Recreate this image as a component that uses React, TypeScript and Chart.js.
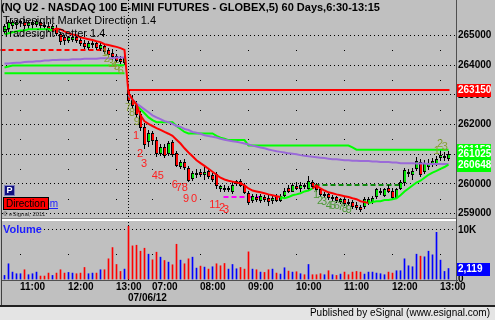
import React, { useEffect, useRef } from "react";
import { Chart, registerables } from "chart.js";

Chart.register(...registerables);

const FONT = '"Liberation Sans", Arial, Helvetica, sans-serif';

// ---------------- DATA ----------------
// 5-minute bars. Index 0 = 10:40 of the prior session, index 31 = 06:30 on 07/06/12.
const SESSION_START_INDEX = 31;
const SESSION_DATE = "07/06/12";
const TIME_TICK_INDEX = [4, 16, 28, 37, 49, 61, 73, 85, 97, 109];
const TIME_TICK_LABELS = ["11:00", "12:00", "13:00", "07:00", "08:00", "09:00", "10:00", "11:00", "12:00", "13:00"];
const PRICE_TICKS = [259000, 260000, 261000, 262000, 263000, 264000, 265000];
const PRICE_HALF_LEVELS = [259500, 260500, 261500, 262500, 263500, 264500];
const VOLUME_TICK = 10000;
const VOLUME_TICK_LABEL = "10K";
const VOLUME_HALF_LEVEL = 5000;

const open = [
  265160, 265260, 265360, 265390, 265430, 265460, 265330, 265390, 265390, 265460,
  265330, 265300, 265230, 265260, 265030, 264930, 264840, 264870, 264930, 264840,
  264740, 264610, 264700, 264740, 264570, 264640, 264510, 264410, 264310, 264210, 264110,
  263150, 262870, 262670, 262340, 261920, 261460, 261720, 261490, 261030, 261260,
  261030, 261420, 261030, 260610, 260740, 260540, 260210, 260340, 260410, 260340,
  260440, 260310, 260340, 259850, 259880, 259820, 259750, 260020, 260110, 259950,
  259690, 259460, 259560, 259460, 259560, 259520, 259460, 259590, 259460, 259620,
  259850, 259780, 259920, 259880, 259950, 259850, 260080, 259950, 259820, 259620,
  259650, 259520, 259560, 259420, 259490, 259390, 259390, 259290, 259230, 259260,
  259390, 259420, 259590, 259720, 259620, 259850, 259780, 259560, 259880, 260050,
  260380, 260340, 260540, 260740, 260440, 260610, 260670, 260700, 260900, 260900, 260870,
];
const high = [
  265390, 265520, 265520, 265520, 265520, 265560, 265490, 265520, 265560, 265520,
  265460, 265430, 265390, 265360, 265100, 265000, 264970, 264970, 264970, 264900,
  264840, 264800, 264800, 264800, 264740, 264700, 264570, 264540, 264380, 264310, 264340,
  263330, 263000, 262800, 262470, 262050, 261820, 261790, 261590, 261360, 261360,
  261460, 261490, 261100, 260800, 260830, 260610, 260440, 260510, 260510, 260610,
  260510, 260380, 260410, 259980, 259950, 259920, 260050, 260150, 260180, 260020,
  259780, 259650, 259650, 259650, 259620, 259620, 259590, 259650, 259650, 259850,
  259980, 260020, 260050, 260050, 260020, 260280, 260150, 260020, 259880, 259720,
  259720, 259620, 259590, 259520, 259560, 259490, 259460, 259390, 259290, 259560,
  259560, 259590, 259880, 259850, 259880, 259950, 259850, 259880, 260150, 260540,
  260510, 260540, 260900, 260830, 260800, 260830, 260870, 260930, 261160, 261060, 261100,
];
const low = [
  265070, 265160, 265230, 265260, 265300, 265260, 265230, 265260, 265300, 265260,
  265200, 265160, 265160, 265000, 264700, 264700, 264770, 264800, 264770, 264670,
  264570, 264540, 264610, 264540, 264510, 264410, 264310, 264210, 264110, 264080, 264050,
  262740, 262570, 262240, 261820, 261200, 261290, 261360, 260930, 260970, 260900,
  260970, 260930, 260610, 260540, 260510, 260110, 260150, 260240, 260280, 260180,
  260210, 260110, 259880, 259780, 259780, 259750, 259690, 259950, 259920, 259690,
  259330, 259390, 259420, 259390, 259420, 259290, 259360, 259420, 259420, 259560,
  259720, 259750, 259820, 259780, 259850, 259820, 259850, 259750, 259590, 259560,
  259490, 259460, 259390, 259360, 259290, 259290, 259190, 259160, 259100, 259190,
  259330, 259360, 259520, 259650, 259590, 259720, 259490, 259520, 259820, 259980,
  260280, 260180, 260470, 260280, 260380, 260510, 260610, 260640, 260800, 260800, 260800,
];
const close = [
  265300, 265430, 265460, 265460, 265490, 265360, 265430, 265460, 265490, 265330,
  265300, 265230, 265300, 265070, 264800, 264840, 264930, 264930, 264840, 264740,
  264640, 264740, 264740, 264610, 264670, 264480, 264380, 264310, 264180, 264150, 264280,
  262840, 262640, 262340, 261920, 261360, 261720, 261490, 261030, 261260, 260970,
  261390, 261000, 260640, 260740, 260570, 260150, 260380, 260380, 260340, 260410,
  260280, 260180, 259950, 259920, 259820, 259850, 259980, 260110, 259950, 259720,
  259390, 259590, 259490, 259590, 259490, 259420, 259520, 259460, 259590, 259780,
  259780, 259950, 259880, 259950, 259920, 260110, 259920, 259820, 259650, 259650,
  259560, 259560, 259460, 259490, 259360, 259360, 259260, 259230, 259160, 259490,
  259490, 259520, 259820, 259780, 259820, 259780, 259560, 259820, 260080, 260470,
  260410, 260440, 260770, 260340, 260700, 260670, 260770, 260830, 260970, 260930, 261025,
];
const volume = [
  730, 3070, 1400, 1070, 1070, 1870, 870, 1070, 1400, 600,
  600, 1200, 730, 1200, 1870, 1200, 1330, 1200, 1070, 1200,
  2330, 1070, 1200, 1200, 1870, 1870, 4070, 6330, 2930, 1530, 2000,
  10600, 6670, 6800, 5600, 6200, 5000, 3870, 5400, 4400, 3730,
  3400, 2870, 7000, 3800, 3070, 4070, 4400, 2200, 2600, 2400,
  2000, 2470, 3070, 2670, 3130, 2000, 2930, 2070, 2330, 2000,
  5470, 2000, 1870, 1400, 1330, 1870, 2000, 1200, 1000, 2270,
  1600, 1400, 1470, 1070, 870, 2930, 870, 870, 1070, 870,
  1670, 870, 730, 1000, 1400, 870, 1400, 1530, 1400, 1000,
  1400, 1400, 1200, 1070, 870, 1400, 1200, 1670, 1670, 4070,
  2670, 2470, 5000, 4600, 4470, 5600, 4870, 9400, 3800, 1530, 2119,
];
// B = up volume (blue), R = down volume (red)
const volumeDirection =
  "BBBBBRBBBRRRBRRRBBRRRBBRBRRRRRB" +
  "RRRRRBRRBRBRRBRRBBRBRBRRRB" +
  "BBRRRBRBRRBRBBRBRBRBRRRBRBRBRRRRRBBBBBBRRBBBBBBRBBBBBBB";

// Tradesight Market Direction line and its state (U = green / support, D = red / resistance)
const marketDirection = [
  265030, 265070, 265100, 265130, 265160, 265160, 265200, 265200, 265200, 265200,
  265200, 265200, 265160, 265230, 265200, 265130, 265070, 265030, 265000, 264930,
  264900, 264870, 264840, 264800, 264770, 264700, 264670, 264640, 264610, 264570, 264510,
  263060, 262840, 262670, 262310, 262110, 262020, 261950, 261880, 261820, 261750,
  261690, 261620, 261490, 261360, 261200, 261060, 260930, 260800, 260700, 260610,
  260510, 260410, 260310, 260210, 260150, 260110, 260080, 260050, 260020, 259950,
  259850, 259780, 259750, 259720, 259690, 259650, 259620, 259590, 259560, 259520,
  259560, 259620, 259650, 259690, 259750, 259780, 259850, 259950, 259850, 259780,
  259720, 259690, 259650, 259620, 259590, 259560, 259520, 259490, 259420, 259390,
  259360, 259390, 259420, 259420, 259460, 259460, 259490, 259520, 259620, 259750,
  259850, 259950, 260050, 260110, 260210, 260310, 260380, 260440, 260510, 260570, 260648,
];
const marketDirectionState =
  "UUUUUUUUUUUUU" +
  "DDDDDDDDDDDDDDDDDDDDDDDDDDDDDDDDDDDDDDDDDDDDDDDDDDDDDDDDD" +
  "UUUUUUUU" +
  "DDDDDDDDDDDDDD" +
  "UUUUUUUUUUUUUUUUUUUU";

// Volume-weighted average line (purple)
const vwap = [
  264050, 264050, 264065, 264080, 264080, 264100, 264110, 264110, 264130, 264130,
  264150, 264150, 264165, 264165, 264180, 264180, 264180, 264195, 264195, 264195,
  264210, 264210, 264210, 264210, 264230, 264230, 264230, 264230, 264250, 264250, 264250,
  263000, 262840, 262700, 262610, 262510, 262410, 262310, 262240, 262180, 262110,
  262080, 262020, 261950, 261920, 261850, 261820, 261750, 261720, 261690, 261640,
  261610, 261590, 261560, 261520, 261490, 261460, 261440, 261420, 261390, 261360,
  261330, 261290, 261260, 261230, 261200, 261160, 261130, 261100, 261080, 261060,
  261030, 261015, 261000, 260970, 260950, 260930, 260915, 260900, 260885, 260870,
  260850, 260830, 260830, 260815, 260800, 260800, 260785, 260785, 260770, 260770,
  260770, 260755, 260755, 260740, 260740, 260740, 260720, 260720, 260700, 260700,
  260700, 260700, 260685, 260685, 260685, 260670, 260670, 260670, 260670, 260670, 260670,
];
// Setter band (bright green step line)
const setterBand = [
  263920, 263950, 263980, 263980, 263980, 263980, 263980, 263980, 263980, 263980,
  263980, 263980, 263980, 263980, 263980, 263980, 263980, 263980, 263980, 263980,
  263980, 263980, 263980, 263980, 263980, 263980, 263980, 263980, 263990, 263990, 263990,
  263000, 262840, 262670, 262510, 262380, 262240, 262150, 262080, 262080, 262080,
  262080, 262080, 261950, 261850, 261750, 261700, 261700, 261700, 261700, 261700,
  261700, 261700, 261620, 261560, 261520, 261475, 261475, 261475, 261475, 261475,
  261290, 261290, 261290, 261290, 261290, 261290, 261290, 261290, 261290, 261290,
  261290, 261290, 261290, 261290, 261290, 261290, 261290, 261290, 261290, 261290,
  261290, 261290, 261290, 261290, 261290, 261290, 261230, 261153, 261153, 261153,
  261153, 261153, 261153, 261153, 261153, 261153, 261153, 261153, 261153, 261153,
  261153, 261153, 261153, 261153, 261153, 261153, 261153, 261153, 261153, 261153, 261153,
];
// Prior-session lower band (green, first session only)
const priorBand = [
  263720, 263720, 263720, 263720, 263720, 263720, 263720, 263720, 263720, 263720,
  263720, 263720, 263720, 263720, 263720, 263720, 263720, 263720, 263720, 263720,
  263720, 263720, 263720, 263720, 263720, 263720, 263720, 263720, 263720, 263720, 263720,
];

// Horizontal reference levels (value, from bar, to bar)
const levelValues = [264500, 263150, 259550, 259975];
const levelFrom = [-1, 30.75, 54.75, 77.5];
const levelTo = [25, 111.25, 64.5, 99];
const levelColors = ["#ff0000", "#ff0000", "#ff00ff", "#108a10"];
const levelDashed = [true, false, true, true];

// Setup / countdown numbers (bar position, price, text)
const countBars = [
  25.1, 25.6, 26.6, 27.4, 28.1, 29.1, 30.9, 31.9, 33.1,
  32.9, 33.9, 34.9, 37.6, 39.1, 42.6, 43.6, 45.1, 45.4, 47.4, 52.6, 54.4, 55.4,
  77.9, 78.9, 79.9, 81.1, 82.1, 83.1, 84.1, 85.1, 86.1,
  108.1, 108.9, 110.1,
];
const countPrices = [
  264410, 264210, 264050, 263980, 263950, 263790, 262540, 262380, 262080,
  261620, 261000, 260670, 260280, 260280, 259980, 259880, 259880, 259490, 259490, 259290, 259190, 259130,
  259620, 259420, 259390, 259260, 259260, 259260, 259230, 259160, 259130,
  261100, 261330, 261230,
];
const countTexts = [
  "1", "2", "3", "4", "5", "6", "7", "8", "9",
  "1", "2", "3", "4", "5", "6", "7", "8", "9", "0", "11", "2", "3",
  "1", "2", "3", "4", "5", "6", "7", "8", "9",
  "1", "2", "3",
];
const countKinds = "SSSSSSSSS" + "CCCCCCCCCCCCC" + "GGGGGGGGG" + "SSS";

// Right-hand value flags
const lastSetterBand = 261153;
const lastClose = 261025;
const lastMarketDirection = 260648;
const openingLevel = 263150;
const lastVolume = 2119;

// ---------------- CHART ----------------
const TITLE = "(NQ U2 - NASDAQ 100 E-MINI FUTURES - GLOBEX,5) 60 Days,6:30-13:15";
const STUDY1 = "Tradesight Market Direction 1.4";
const STUDY2 = "Tradesight Setter 1.4";

const GREEN = "#00ff00";
const RED = "#ff0000";

function pts(arr: (number | null)[]) {
  return arr.map((v, i) => ({ x: i, y: v }));
}

const esignalPlugin = {
  id: "esignal",
  beforeDraw(chart: any) {
    const { ctx, width, height } = chart;
    ctx.save();
    ctx.fillStyle = "#c0c0c0";
    ctx.fillRect(0, 0, width, height);
    ctx.restore();
  },
  beforeDatasetsDraw(chart: any) {
    const { ctx, chartArea } = chart;
    const xs = chart.scales.x;
    const ys = chart.scales.y;
    const yv = chart.scales.yv;
    ctx.save();
    // sparse hourly grid dots
    ctx.fillStyle = "#000";
    TIME_TICK_INDEX.forEach((i) => {
      const x = Math.floor(xs.getPixelForValue(i));
      PRICE_HALF_LEVELS.forEach((p) => ctx.fillRect(x, Math.round(ys.getPixelForValue(p)), 1, 1));
      ctx.fillRect(x, Math.round(yv.getPixelForValue(VOLUME_HALF_LEVEL)), 1, 1);
    });
    // volume 10K dotted line
    const v10 = Math.round(yv.getPixelForValue(VOLUME_TICK)) + 0.5;
    ctx.strokeStyle = "#000";
    ctx.lineWidth = 1;
    ctx.setLineDash([1, 3]);
    ctx.beginPath();
    ctx.moveTo(44, v10);
    ctx.lineTo(chartArea.right, v10);
    ctx.stroke();
    // session separator
    const sx = Math.floor(xs.getPixelForValue(SESSION_START_INDEX)) + 0.5;
    ctx.setLineDash([1, 2]);
    ctx.beginPath();
    ctx.moveTo(sx, 0);
    ctx.lineTo(sx, chartArea.bottom);
    ctx.stroke();
    ctx.setLineDash([]);

    // reference levels
    levelValues.forEach((v, k) => {
      const y = Math.round(ys.getPixelForValue(v));
      ctx.strokeStyle = levelColors[k];
      ctx.lineWidth = 2;
      ctx.setLineDash(levelDashed[k] ? [5, 3] : []);
      ctx.beginPath();
      ctx.moveTo(xs.getPixelForValue(levelFrom[k]), y);
      ctx.lineTo(xs.getPixelForValue(levelTo[k]), y);
      ctx.stroke();
    });
    ctx.setLineDash([]);

    // candles
    for (let i = 0; i < open.length; i++) {
      const x = Math.floor(xs.getPixelForValue(i));
      const yo = Math.round(ys.getPixelForValue(open[i]));
      const yc = Math.round(ys.getPixelForValue(close[i]));
      const yh = Math.round(ys.getPixelForValue(high[i]));
      const yl = Math.round(ys.getPixelForValue(low[i]));
      ctx.fillStyle = "#000";
      ctx.fillRect(x, yh, 1, Math.max(1, yl - yh + 1));
      const top = Math.min(yo, yc);
      const h = Math.abs(yc - yo);
      if (h < 1) {
        ctx.fillRect(x - 1, top, 3, 1);
      } else {
        ctx.fillRect(x - 1, top, 3, h + 1);
        if (h >= 2) {
          ctx.fillStyle = close[i] >= open[i] ? "#00e000" : RED;
          ctx.fillRect(x, top + 1, 2, h - 1);
        }
      }
    }
    ctx.restore();
  },
  afterDraw(chart: any) {
    const { ctx, chartArea } = chart;
    const xs = chart.scales.x;
    const ys = chart.scales.y;
    const yv = chart.scales.yv;
    ctx.save();

    // count numbers
    ctx.textAlign = "center";
    ctx.textBaseline = "middle";
    ctx.font = `11px ${FONT}`;
    countTexts.forEach((t, k) => {
      const kind = countKinds[k];
      ctx.fillStyle = kind === "C" ? "#ff2020" : kind === "G" ? "#4f9a3a" : "#86a032";
      ctx.fillText(t, xs.getPixelForValue(countBars[k]), ys.getPixelForValue(countPrices[k]));
    });

    // panel separator
    ctx.fillStyle = "#808080";
    ctx.fillRect(2, 218, chartArea.right - 2, 1);
    ctx.fillStyle = "#ffffff";
    ctx.fillRect(2, 219, chartArea.right - 2, 2);
    // volume bottom axis line
    ctx.fillStyle = "#505050";
    ctx.fillRect(2, 280, chartArea.right - 1, 1);
    // right axis border
    ctx.fillRect(chartArea.right - 1, 0, 1, 283);
    // left frame
    ctx.fillStyle = "#404040";
    ctx.fillRect(1, 0, 1, 305);

    // titles
    ctx.textAlign = "left";
    ctx.fillStyle = "#000";
    ctx.font = `bold 11px ${FONT}`;
    ctx.fillText(TITLE, 1, 8);
    ctx.font = `11px ${FONT}`;
    ctx.fillText(STUDY1, 3, 21);
    ctx.fillText(STUDY2, 3, 34);

    // P button, Direction box, copyright
    ctx.fillStyle = "#8080c0";
    ctx.fillRect(4, 185, 11, 11);
    ctx.fillStyle = "#101080";
    ctx.fillRect(5, 186, 9, 9);
    ctx.fillStyle = "#fff";
    ctx.font = `bold 9px ${FONT}`;
    ctx.textAlign = "center";
    ctx.fillText("P", 9.5, 191);
    ctx.textAlign = "right";
    ctx.fillStyle = "#2020ff";
    ctx.font = `10px ${FONT}`;
    ctx.fillText("esignal.com", 58, 204);
    ctx.fillRect(30, 208, 28, 1);
    ctx.fillStyle = "#000";
    ctx.fillRect(3, 197, 46, 13);
    ctx.fillStyle = RED;
    ctx.fillRect(4, 198, 44, 11);
    ctx.fillStyle = "#000";
    ctx.textAlign = "left";
    ctx.font = `10px ${FONT}`;
    ctx.fillText("Direction", 6, 204);
    ctx.fillStyle = "#303030";
    ctx.font = `6px ${FONT}`;
    ctx.fillText("\u00a9 eSignal, 2011", 3, 214);

    // Volume label
    ctx.fillStyle = "#1c1cff";
    ctx.font = `bold 11px ${FONT}`;
    ctx.fillText("Volume", 3, 230);

    // right side labels
    const flag = (text: string, y: number, bg: string) => {
      const yy = Math.round(y);
      ctx.fillStyle = bg;
      ctx.fillRect(457, yy - 6, 34, 13);
      ctx.fillStyle = "#fff";
      ctx.font = `bold 10px ${FONT}`;
      ctx.textAlign = "left";
      ctx.fillText(text, 458, yy + 0.5);
    };
    flag(String(openingLevel), ys.getPixelForValue(openingLevel), RED);
    flag(String(lastSetterBand), ys.getPixelForValue(lastSetterBand), GREEN);
    flag(String(lastClose), ys.getPixelForValue(lastClose), GREEN);
    flag(String(lastMarketDirection), ys.getPixelForValue(lastMarketDirection), GREEN);

    ctx.fillStyle = "#000";
    ctx.font = `bold 10px ${FONT}`;
    ctx.fillText(VOLUME_TICK_LABEL, 458, yv.getPixelForValue(VOLUME_TICK) + 1);
    ctx.fillText("0", 458, yv.getPixelForValue(0));
    const vy = Math.round(yv.getPixelForValue(lastVolume));
    ctx.fillStyle = "#0000ff";
    ctx.fillRect(457, vy - 6, 33, 13);
    ctx.fillStyle = "#fff";
    ctx.fillText(lastVolume.toLocaleString("en-US"), 458, vy + 0.5);

    // time axis
    ctx.fillStyle = "#000";
    ctx.font = `bold 10px ${FONT}`;
    ctx.textAlign = "left";
    TIME_TICK_INDEX.forEach((i, k) => {
      ctx.fillText(TIME_TICK_LABELS[k], Math.floor(xs.getPixelForValue(i)), 287);
    });
    ctx.fillText(SESSION_DATE, Math.floor(xs.getPixelForValue(SESSION_START_INDEX)), 298);

    // bottom strip
    ctx.fillStyle = "#202020";
    ctx.fillRect(0, 305, 495, 2);
    ctx.fillStyle = "#e4e4e4";
    ctx.fillRect(0, 307, 495, 13);
    ctx.fillStyle = "#000";
    ctx.font = `10px ${FONT}`;
    ctx.textAlign = "right";
    ctx.fillText("Published by eSignal (www.esignal.com)", 490, 313.5);
    ctx.restore();
  },
};

export default function App() {
  const ref = useRef<HTMLCanvasElement>(null);
  useEffect(() => {
    document.body.style.margin = "0";
    const canvas = ref.current!;
    const hideBreak = (ctx: any) => (ctx.p1DataIndex === SESSION_START_INDEX ? "rgba(0,0,0,0)" : undefined);
    const chart = new Chart(canvas, {
      type: "line",
      data: {
        datasets: [
          {
            data: pts(marketDirection),
            borderWidth: 2,
            pointRadius: 0,
            borderColor: RED,
            segment: {
              borderColor: (c: any) => (marketDirectionState[c.p1DataIndex] === "U" ? GREEN : RED),
            },
          },
          {
            data: pts(vwap),
            borderWidth: 2,
            pointRadius: 0,
            borderColor: "#9a6ad8",
            segment: { borderColor: hideBreak },
          },
          {
            data: pts(setterBand),
            borderWidth: 2,
            pointRadius: 0,
            borderColor: GREEN,
            segment: { borderColor: hideBreak },
          },
          {
            data: pts(priorBand),
            borderWidth: 2,
            pointRadius: 0,
            borderColor: GREEN,
          },
          {
            type: "bar",
            yAxisID: "yv",
            data: pts(volume),
            barThickness: 1,
            backgroundColor: volume.map((_, i) => (volumeDirection[i] === "B" ? "#0000ff" : "#ff0000")),
          } as any,
        ],
      },
      options: {
        animation: false,
        responsive: false,
        devicePixelRatio: 1,
        events: [],
        layout: { padding: { left: 2, right: 0, top: 0, bottom: 39 } },
        plugins: { legend: { display: false }, tooltip: { enabled: false }, title: { display: false } },
        scales: {
          x: { type: "linear", min: -0.625, max: 113.125, display: false, offset: false },
          y: {
            type: "linear",
            position: "right",
            min: 256738,
            max: 265951,
            afterFit: (s: any) => {
              s.width = 38;
            },
            afterBuildTicks: (s: any) => {
              s.ticks = PRICE_TICKS.map((v) => ({ value: v }));
            },
            grid: { color: "#000", lineWidth: 1, drawTicks: false },
            border: { display: false, dash: [1, 3] },
            ticks: {
              font: { family: FONT, size: 10, weight: "bold" },
              color: "#000",
              padding: 1,
              callback: (v: any) => String(v),
            },
          },
          yv: { type: "linear", position: "right", display: false, min: -392, max: 54706 },
        },
      } as any,
      plugins: [esignalPlugin],
    });
    return () => chart.destroy();
  }, []);
  return (
    <div style={{ position: "absolute", left: 0, top: 0, width: 495, height: 320 }}>
      <canvas ref={ref} width={495} height={320} style={{ display: "block", width: 495, height: 320 }} />
    </div>
  );
}
